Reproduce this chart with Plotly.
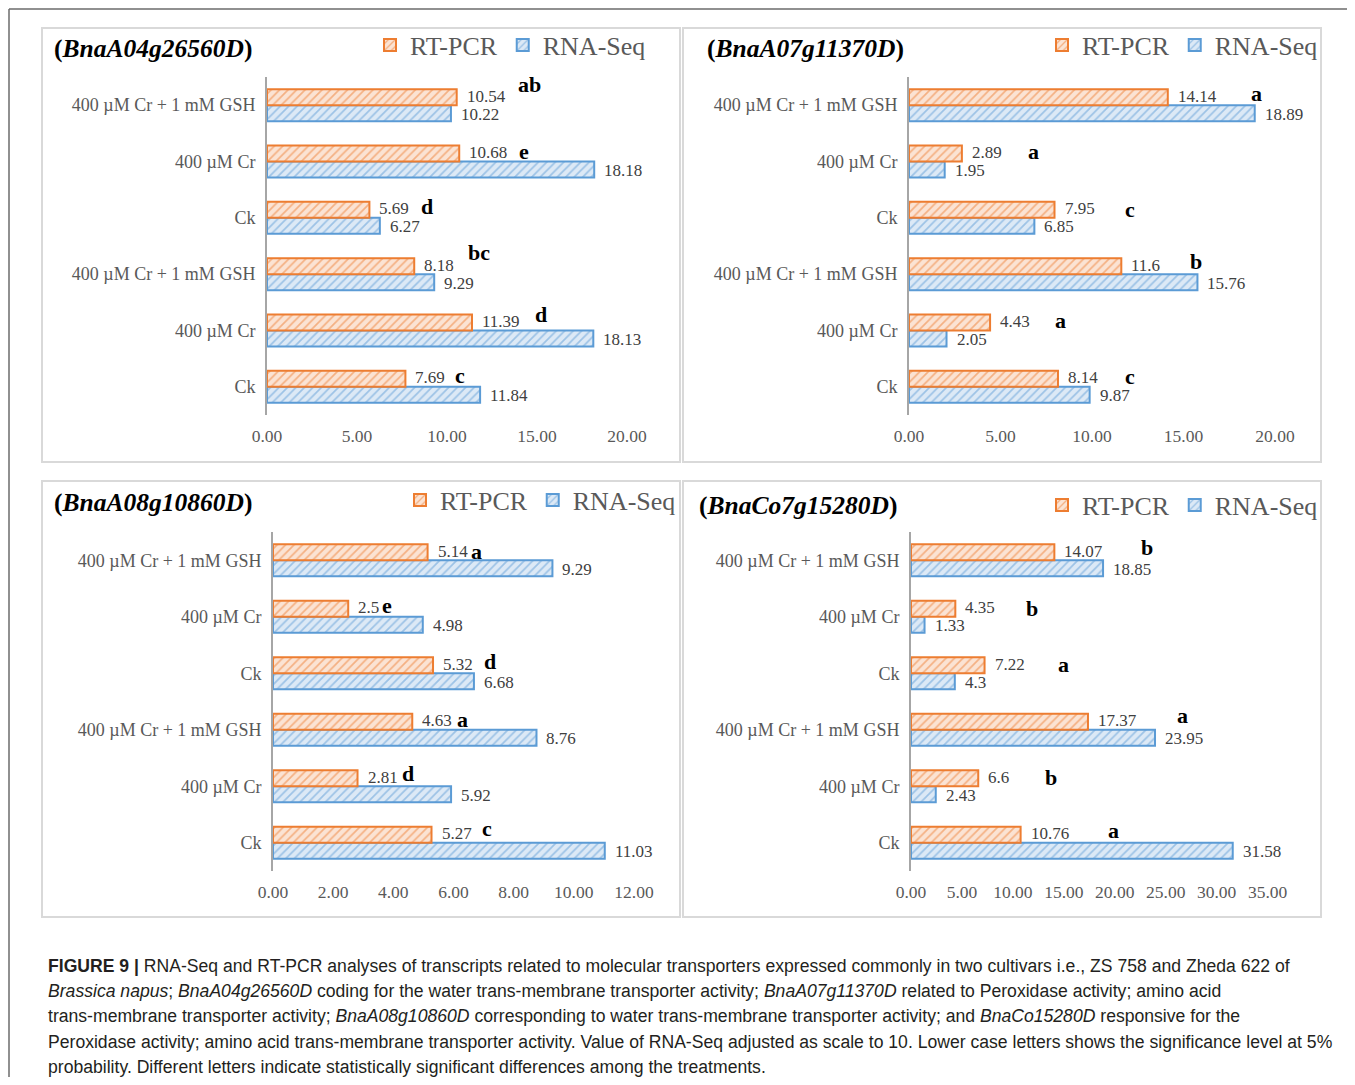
import plotly.graph_objects as go

# page body has an 8px margin: the figure is sized so the page fits the window
OFF = 8
W, H = 1355 - 2 * OFF, 1085 - 2 * OFF

# ---------------- data (top-to-bottom as read in each panel) ----------------
categories = ["400 µM Cr + 1 mM GSH", "400 µM Cr", "Ck",
              "400 µM Cr + 1 mM GSH", "400 µM Cr", "Ck"]
series_names = ["RT-PCR", "RNA-Seq"]
gene_names = ["BnaA04g26560D", "BnaA07g11370D", "BnaA08g10860D", "BnaCo7g15280D"]

rt_pcr_A04 = [10.54, 10.68, 5.69, 8.18, 11.39, 7.69]
rna_seq_A04 = [10.22, 18.18, 6.27, 9.29, 18.13, 11.84]
letters_A04 = ["ab", "e", "d", "bc", "d", "c"]

rt_pcr_A07 = [14.14, 2.89, 7.95, 11.6, 4.43, 8.14]
rna_seq_A07 = [18.89, 1.95, 6.85, 15.76, 2.05, 9.87]
letters_A07 = ["a", "a", "c", "b", "a", "c"]

rt_pcr_A08 = [5.14, 2.5, 5.32, 4.63, 2.81, 5.27]
rna_seq_A08 = [9.29, 4.98, 6.68, 8.76, 5.92, 11.03]
letters_A08 = ["a", "e", "d", "a", "d", "c"]

rt_pcr_C07 = [14.07, 4.35, 7.22, 17.37, 6.6, 10.76]
rna_seq_C07 = [18.85, 1.33, 4.3, 23.95, 2.43, 31.58]
letters_C07 = ["b", "b", "a", "a", "b", "a"]

# ---------------- layout / style (positions of the letter annotations) -------
letter_pos_A04 = [(14.6, 0.36), (14.3, 0.18), (8.9, 0.21), (11.8, 0.39), (15.2, 0.28), (10.7, 0.21)]
letter_pos_A07 = [(19.0, 0.20), (6.8, 0.17), (12.1, 0.14), (15.7, 0.22), (8.25, 0.18), (12.05, 0.18)]
letter_pos_A08 = [(6.75, 0.16), (3.8, 0.20), (7.2, 0.20), (6.3, 0.18), (4.5, 0.22), (7.1, 0.25)]
letter_pos_C07 = [(23.2, 0.22), (11.9, 0.14), (15.0, 0.15), (26.6, 0.25), (13.7, 0.15), (19.9, 0.21)]

panels = [
    dict(gene=gene_names[0], rt=rt_pcr_A04, rna=rna_seq_A04, letters=letters_A04, lpos=letter_pos_A04,
         box=(42, 28, 680, 462), plot=(267, 77, 650, 415), xmax=21.28, dtick=5,
         title=(52, 48), legend=(370, 45)),
    dict(gene=gene_names[1], rt=rt_pcr_A07, rna=rna_seq_A07, letters=letters_A07, lpos=letter_pos_A07,
         box=(683, 28, 1321, 462), plot=(909, 77, 1295, 415), xmax=21.09, dtick=5,
         title=(705, 48), legend=(1042, 45)),
    dict(gene=gene_names[2], rt=rt_pcr_A08, rna=rna_seq_A08, letters=letters_A08, lpos=letter_pos_A08,
         box=(42, 481, 680, 917), plot=(273, 532, 655, 871), xmax=12.7, dtick=2,
         title=(52, 502), legend=(400, 500)),
    dict(gene=gene_names[3], rt=rt_pcr_C07, rna=rna_seq_C07, letters=letters_C07, lpos=letter_pos_C07,
         box=(683, 481, 1321, 917), plot=(911, 532, 1290, 871), xmax=37.2, dtick=5,
         title=(697, 505), legend=(1042, 505)),
]

ORANGE, ORANGE_BG = "#ED7D31", "#FBE3D3"
BLUE, BLUE_BG = "#5B9BD5", "#DCE9F6"
SERIF = "Liberation Serif, Times New Roman, serif"
SANS = "Liberation Sans, Arial, sans-serif"
GRAY_TXT = "#595959"
BAR_W = 0.284


def fx(px):
    return (px - OFF) / W


def fy(py):
    return 1 - (py - OFF) / H


fig = go.Figure()
layout_updates = {}
annotations = []
shapes = []

for n, p in enumerate(panels, start=1):
    sfx = "" if n == 1 else str(n)
    xa, ya = "x" + sfx, "y" + sfx
    leg = "legend" if n == 1 else "legend" + str(n)
    ypos = [len(categories) - 1 - i for i in range(len(categories))]

    fig.add_trace(go.Bar(
        name=series_names[1], orientation="h", x=p["rna"], y=ypos,
        width=BAR_W, offset=-BAR_W, xaxis=xa, yaxis=ya, legend=leg, legendrank=2,
        marker=dict(color=BLUE_BG, line=dict(color=BLUE, width=2),
                    pattern=dict(shape="/", fgcolor=BLUE, bgcolor=BLUE_BG, size=6, solidity=0.28)),
        hoverinfo="x+name",
    ))
    fig.add_trace(go.Bar(
        name=series_names[0], orientation="h", x=p["rt"], y=ypos,
        width=BAR_W, offset=0, xaxis=xa, yaxis=ya, legend=leg, legendrank=1,
        marker=dict(color=ORANGE_BG, line=dict(color=ORANGE, width=2),
                    pattern=dict(shape="/", fgcolor=ORANGE, bgcolor=ORANGE_BG, size=6, solidity=0.28)),
        hoverinfo="x+name",
    ))

    x0, y0, x1, y1 = p["plot"]
    layout_updates["xaxis" + sfx] = dict(
        domain=[fx(x0), fx(x1)], range=[0, p["xmax"]], anchor=ya, automargin=False,
        dtick=p["dtick"], tick0=0, tickformat=".2f",
        showgrid=False, zeroline=False, showline=False, ticks="",
        tickfont=dict(family=SERIF, size=17.5, color=GRAY_TXT), ticklabelstandoff=8,
    )
    layout_updates["yaxis" + sfx] = dict(
        domain=[fy(y1), fy(y0)], range=[-0.5, len(categories) - 0.5], anchor=xa, automargin=False,
        tickvals=ypos, ticktext=categories,
        showgrid=False, zeroline=False, showline=True, linecolor="#a6a6a6", linewidth=2,
        ticks="", tickfont=dict(family=SERIF, size=18, color=GRAY_TXT), ticklabelstandoff=6,
    )
    lx, ly = p["legend"]
    layout_updates[leg] = dict(
        orientation="h", x=fx(lx), y=fy(ly), xanchor="left", yanchor="middle",
        xref="container", yref="container",
        bgcolor="rgba(0,0,0,0)", font=dict(family=SERIF, size=26, color=GRAY_TXT),
        traceorder="normal", itemwidth=30,
    )

    # value labels
    for i, yv in enumerate(ypos):
        for val, dy, ys in ((p["rt"][i], BAR_W / 2, 1), (p["rna"][i], -BAR_W / 2, -1)):
            annotations.append(dict(
                x=val, y=yv + dy, xref=xa, yref=ya, text=f"{val:g}", showarrow=False,
                xanchor="left", yanchor="middle", xshift=8, yshift=ys,
                font=dict(family=SERIF, size=17, color="#404040"),
            ))
        lxv, ldy = p["lpos"][i]
        annotations.append(dict(
            x=lxv, y=yv + ldy, xref=xa, yref=ya, text=f"<b>{p['letters'][i]}</b>", showarrow=False,
            xanchor="center", yanchor="middle",
            font=dict(family=SERIF, size=22, color="#000000"),
        ))

    # panel title
    tx, ty = p["title"]
    annotations.append(dict(
        x=fx(tx), y=fy(ty), xref="paper", yref="paper", xanchor="left", yanchor="middle",
        text=f"<b>(<i>{p['gene']}</i>)</b>", showarrow=False,
        font=dict(family=SERIF, size=25.5, color="#000000"),
    ))

    # panel frame
    bx0, by0, bx1, by1 = p["box"]
    shapes.append(dict(type="rect", xref="paper", yref="paper",
                       x0=fx(bx0), x1=fx(bx1), y0=fy(by1), y1=fy(by0),
                       line=dict(color="#d9d9d9", width=2), layer="below"))

# outer figure frame (left and top)
shapes.append(dict(type="line", xref="paper", yref="paper", x0=fx(9), x1=fx(9), y0=0, y1=fy(9),
                   line=dict(color="#6b6b6b", width=1.5)))
shapes.append(dict(type="line", xref="paper", yref="paper", x0=fx(9), x1=1, y0=fy(9), y1=fy(9),
                   line=dict(color="#6b6b6b", width=1.5)))

caption_lines = [
    "<b>FIGURE 9 |</b> RNA-Seq and RT-PCR analyses of transcripts related to molecular transporters expressed commonly in two cultivars i.e., ZS 758 and Zheda 622 of",
    "<i>Brassica napus</i>; <i>BnaA04g26560D</i> coding for the water trans-membrane transporter activity; <i>BnaA07g11370D</i> related to Peroxidase activity; amino acid",
    "trans-membrane transporter activity; <i>BnaA08g10860D</i> corresponding to water trans-membrane transporter activity; and <i>BnaCo15280D</i> responsive for the",
    "Peroxidase activity; amino acid trans-membrane transporter activity. Value of RNA-Seq adjusted as scale to 10. Lower case letters shows the significance level at 5%",
    "probability. Different letters indicate statistically significant differences among the treatments.",
]
for k, line in enumerate(caption_lines):
    annotations.append(dict(
        x=fx(46), y=fy(966 + 25.2 * k), xref="paper", yref="paper", xanchor="left", yanchor="middle",
        text=line, showarrow=False, font=dict(family=SANS, size=17.6, color="#231f20"),
    ))

fig.update_layout(
    width=W, height=H, margin=dict(l=0, r=0, t=0, b=0, autoexpand=False),
    paper_bgcolor="white", plot_bgcolor="white",
    barmode="overlay", showlegend=True,
    annotations=annotations, shapes=shapes,
    **layout_updates,
)

fig.write_html("out.html")
